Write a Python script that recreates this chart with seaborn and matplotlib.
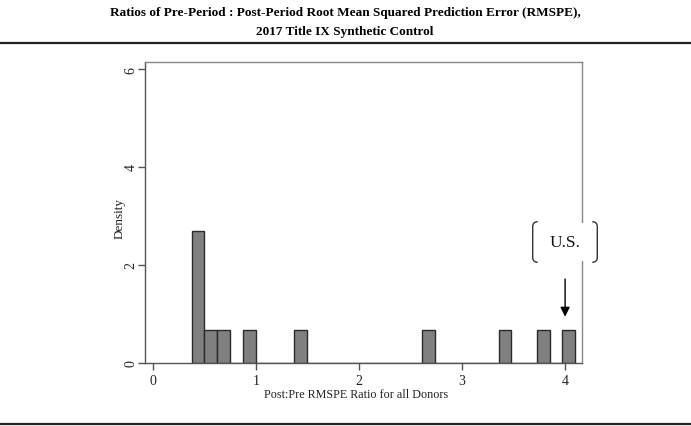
import numpy as np
import pandas as pd
import matplotlib
matplotlib.use('Agg')
import matplotlib.pyplot as plt
import seaborn as sns
from matplotlib.path import Path
from matplotlib.patches import PathPatch
from matplotlib.lines import Line2D

# --- data: post/pre RMSPE ratio for each donor (last one is the U.S.) ---
donor_ratios = [0.40, 0.42, 0.44, 0.47, 0.55, 0.68, 0.93, 1.43, 2.68, 3.41, 3.78, 4.03]
bin_start = 0.378
bin_width = 0.124
n_bins = 30
x_ticks = [0, 1, 2, 3, 4]
y_ticks = [0, 2, 4, 6]
us_ratio = 4.0

df = pd.DataFrame({'ratio': donor_ratios})

sns.set_theme(style='white')
plt.rcParams['font.family'] = ['Liberation Serif', 'DejaVu Serif']

W, H = 691, 427
fig = plt.figure(figsize=(W / 100, H / 100), dpi=100)
ax = fig.add_axes([145 / W, 1 - 363.7 / H, (581.7 - 145) / W, (363.7 - 63.3) / H])

sns.histplot(data=df, x='ratio', stat='density', binwidth=bin_width,
             binrange=(bin_start, bin_start + n_bins * bin_width),
             color='#808080', edgecolor='#2a2a2a', linewidth=1.0, alpha=1, ax=ax)

ax.set_xlim(-0.075, 4.161)
ax.set_ylim(0, 6.14)
ax.set_xticks(x_ticks)
ax.set_yticks(y_ticks)
ax.set_yticklabels([str(v) for v in y_ticks], rotation=90, va='center')
ax.tick_params(axis='both', direction='out', length=5, width=1, color='#555555',
               labelsize=10, labelcolor='#222222', pad=3,
               bottom=True, left=True)
ax.tick_params(axis='y', pad=0.5)
for s in ax.spines.values():
    s.set_color('#888888')
    s.set_linewidth(1.0)
ax.spines['left'].set_color('#555555')
ax.spines['bottom'].set_color('#555555')
ax.set_xlabel('Post:Pre RMSPE Ratio for all Donors', fontsize=8.7, color='#222222')
ax.set_ylabel('Density', fontsize=9.5, color='#222222')
ax.xaxis.set_label_coords(0.483, -0.085)
ax.yaxis.set_label_coords(-0.045, 0.485)

# U.S. annotation
ax.annotate('', xy=(us_ratio, 0.94), xytext=(us_ratio, 1.71),
            arrowprops=dict(arrowstyle='-|>', color='black', lw=1.0,
                            mutation_scale=14, shrinkA=0, shrinkB=0))


def fx(px):
    return px / W


def fy(py):
    return 1 - py / H


# white box covering the frame behind the label
box = plt.Rectangle((fx(536), fy(262)), fx(594) - fx(536), fy(224) - fy(262),
                    transform=fig.transFigure, facecolor='white', edgecolor='none', zorder=5)
fig.patches.append(box)
for x0, d in [(532.7, 1), (597.3, -1)]:
    top, bot, r = 222.7, 263.3, 5
    verts = [(x0 + d * r, top), (x0, top), (x0, top + r), (x0, bot - r), (x0, bot), (x0 + d * r, bot)]
    verts = [(fx(a), fy(b)) for a, b in verts]
    codes = [Path.MOVETO, Path.CURVE3, Path.CURVE3, Path.LINETO, Path.CURVE3, Path.CURVE3]
    fig.patches.append(PathPatch(Path(verts, codes), transform=fig.transFigure,
                                 facecolor='none', edgecolor='#333333', lw=1.0, zorder=6))
fig.text(fx(565), fy(243), 'U.S.', ha='center', va='center', fontsize=12.5, color='#111111', zorder=7)

# title and rules
fig.text(fx(345), fy(13), 'Ratios of Pre-Period : Post-Period Root Mean Squared Prediction Error (RMSPE),',
         ha='center', va='center', fontsize=9.5, fontweight='bold', color='black')
fig.text(fx(345), fy(32), '2017 Title IX Synthetic Control',
         ha='center', va='center', fontsize=9.5, fontweight='bold', color='black')
fig.lines.append(Line2D([0, 1], [fy(44), fy(44)], transform=fig.transFigure, color='#222222', lw=1.6))
fig.lines.append(Line2D([0, 1], [fy(425), fy(425)], transform=fig.transFigure, color='#222222', lw=1.6))

fig.savefig('out.png', dpi=100)
